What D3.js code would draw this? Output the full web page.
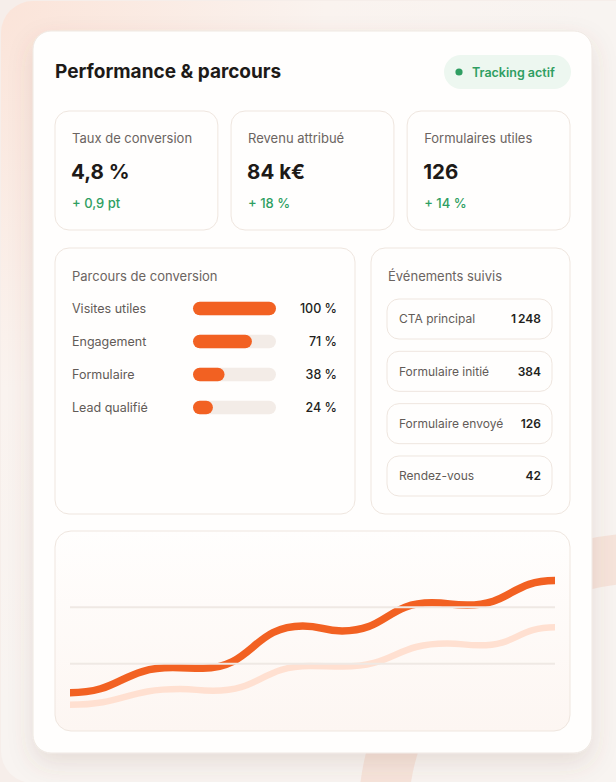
<!DOCTYPE html>
<html>
<head>
<meta charset="utf-8">
<script src="https://cdn.jsdelivr.net/npm/d3@7"></script>
<style>
  html, body { margin: 0; padding: 0; background: #f7f1ed; }
  svg { display: block; font-family: Inter, "Noto Sans", sans-serif; }
</style>
</head>
<body>
<div id="chart"></div>
<script>
const W = 616, H = 782;

// KPI tiles
const kpiLabels = ["Taux de conversion", "Revenu attribué", "Formulaires utiles"];
const kpiValues = ["4,8 %", "84 k€", "126"];
const kpiDeltas = ["+ 0,9 pt", "+ 18 %", "+ 14 %"];

// funnel
const funnelSteps = ["Visites utiles", "Engagement", "Formulaire", "Lead qualifié"];
const funnelPct = [100, 71, 38, 24];

// tracked events
const eventNames = ["CTA principal", "Formulaire initié", "Formulaire envoyé", "Rendez-vous"];
const eventCounts = [1248, 384, 126, 42];

// trend curves: turning points (position 0-100, value 0-60)
const mainPos = [0, 21.2, 27.4, 48.0, 56.1, 74.6, 81.9, 100];
const mainVal = [9.7, 18.6, 18.4, 33.4, 31.6, 41.6, 40.8, 49.5];
const basePos = [0, 22.7, 29.5, 49.5, 56.3, 77.7, 84.5, 100];
const baseVal = [5.4, 11.0, 10.4, 19.2, 19.0, 27.2, 26.5, 32.9];
const gridTicks = [20, 40];

const orange = "#f26122";
const green = "#2f9e62";
const border = "#efe6df";

const svg = d3.select("#chart").append("svg")
  .attr("width", W)
  .attr("height", H);

const defs = svg.append("defs");

const bgGrad = defs.append("radialGradient")
  .attr("id", "bgGrad")
  .attr("cx", "0%").attr("cy", "0%").attr("r", "90%");
bgGrad.append("stop").attr("offset", "0%").attr("stop-color", "#fbe4d9");
bgGrad.append("stop").attr("offset", "55%").attr("stop-color", "#faf3ef");
bgGrad.append("stop").attr("offset", "100%").attr("stop-color", "#f8f4f1");

const chartGrad = defs.append("linearGradient")
  .attr("id", "chartGrad")
  .attr("x1", 0).attr("y1", 0).attr("x2", 0).attr("y2", 1);
chartGrad.append("stop").attr("offset", "0%").attr("stop-color", "#fffefd");
chartGrad.append("stop").attr("offset", "100%").attr("stop-color", "#fdf6f2");

const shadow = defs.append("filter")
  .attr("id", "shadow")
  .attr("x", "-20%").attr("y", "-20%").attr("width", "140%").attr("height", "140%");
shadow.append("feDropShadow")
  .attr("dx", 0).attr("dy", 10).attr("stdDeviation", 12)
  .attr("flood-color", "#7a5040").attr("flood-opacity", 0.14);

// page background
svg.append("rect").attr("width", W).attr("height", H).attr("fill", "#f6eeea");
svg.append("rect")
  .attr("x", 1).attr("y", 1).attr("width", W + 40).attr("height", H + 0)
  .attr("rx", 32)
  .attr("fill", "url(#bgGrad)");

// soft ring behind the card
svg.append("circle")
  .attr("cx", 645).attr("cy", 820)
  .attr("r", 262)
  .attr("fill", "none")
  .attr("stroke", "#f5ddd2")
  .attr("stroke-opacity", 0.7)
  .attr("stroke-width", 50);

// main card
svg.append("rect")
  .attr("x", 33).attr("y", 31).attr("width", 559).attr("height", 722)
  .attr("rx", 18)
  .attr("fill", "#fffefd")
  .attr("stroke", "#efe8e2")
  .attr("filter", "url(#shadow)");

svg.append("text")
  .attr("x", 55).attr("y", 77.5)
  .attr("font-size", 19).attr("font-weight", 700)
  .attr("fill", "#1d1a18")
  .text("Performance & parcours");

// badge
const badge = svg.append("g");
badge.append("rect")
  .attr("x", 444).attr("y", 55).attr("width", 127).attr("height", 34)
  .attr("rx", 17)
  .attr("fill", "#edf7f0");
badge.append("circle").attr("cx", 459).attr("cy", 72).attr("r", 3.6).attr("fill", green);
badge.append("text")
  .attr("x", 472).attr("y", 76.5)
  .attr("font-size", 12.5).attr("font-weight", 600)
  .attr("fill", green)
  .text("Tracking actif");

// KPI tiles
const kpiX = d3.scaleBand().domain(d3.range(kpiLabels.length)).range([55, 570]).paddingInner(0.075);

const kpi = svg.selectAll("g.kpi")
  .data(kpiLabels)
  .enter()
  .append("g")
  .attr("class", "kpi")
  .attr("transform", (d, i) => `translate(${kpiX(i)}, 111)`);

kpi.append("rect")
  .attr("width", kpiX.bandwidth()).attr("height", 119)
  .attr("rx", 14)
  .attr("fill", "#fffefd")
  .attr("stroke", border);

kpi.append("text")
  .attr("x", 17).attr("y", 32)
  .attr("font-size", 13).attr("fill", "#6b6461")
  .text((d) => d);

kpi.append("text")
  .attr("x", 16).attr("y", 68)
  .attr("font-size", 20.5).attr("font-weight", 700).attr("fill", "#1d1a18")
  .text((d, i) => kpiValues[i]);

kpi.append("text")
  .attr("x", 17).attr("y", 97)
  .attr("font-size", 13).attr("font-weight", 500).attr("fill", green)
  .text((d, i) => kpiDeltas[i]);

// funnel card
svg.append("rect")
  .attr("x", 55).attr("y", 248).attr("width", 300).attr("height", 266)
  .attr("rx", 14).attr("fill", "#fffefd").attr("stroke", border);

svg.append("text")
  .attr("x", 72).attr("y", 280.5)
  .attr("font-size", 13).attr("fill", "#6b6461")
  .text("Parcours de conversion");

const rowY = d3.scalePoint().domain(funnelSteps).range([308.5, 407.5]);
const barX = d3.scaleLinear().domain([0, 100]).range([0, 83]);
const barH = 13.5;

const rows = svg.selectAll("g.step")
  .data(funnelSteps)
  .enter()
  .append("g")
  .attr("class", "step")
  .attr("transform", (d) => `translate(0, ${rowY(d)})`);

rows.append("text")
  .attr("x", 72).attr("y", 4.5)
  .attr("font-size", 12.5).attr("fill", "#625b57")
  .text((d) => d);

rows.append("rect")
  .attr("x", 193).attr("y", -barH / 2)
  .attr("width", barX(100)).attr("height", barH)
  .attr("rx", barH / 2)
  .attr("fill", "#f3ece7");

rows.append("rect")
  .attr("x", 193).attr("y", -barH / 2)
  .attr("width", (d, i) => barX(funnelPct[i])).attr("height", barH)
  .attr("rx", barH / 2)
  .attr("fill", orange);

rows.append("text")
  .attr("x", 337).attr("y", 4.5)
  .attr("text-anchor", "end")
  .attr("font-size", 12.5).attr("font-weight", 500).attr("fill", "#231f1c")
  .text((d, i) => funnelPct[i] + " %");

// events card
svg.append("rect")
  .attr("x", 371).attr("y", 248).attr("width", 199).attr("height", 266)
  .attr("rx", 14).attr("fill", "#fffefd").attr("stroke", border);

svg.append("text")
  .attr("x", 388).attr("y", 280.5)
  .attr("font-size", 13).attr("fill", "#6b6461")
  .text("Événements suivis");

const evY = d3.scaleBand().domain(eventNames).range([299, 496]).paddingInner(0.235);
const fmtCount = (n) => d3.format(",")(n).replace(",", "\u2009");

const ev = svg.selectAll("g.event")
  .data(eventNames)
  .enter()
  .append("g")
  .attr("class", "event")
  .attr("transform", (d) => `translate(387, ${evY(d)})`);

ev.append("rect")
  .attr("width", 165).attr("height", evY.bandwidth())
  .attr("rx", 12)
  .attr("fill", "#fffefd").attr("stroke", border);

ev.append("text")
  .attr("x", 12).attr("y", evY.bandwidth() / 2 + 4.3)
  .attr("font-size", 12).attr("fill", "#625b57")
  .text((d) => d);

ev.append("text")
  .attr("x", 154).attr("y", evY.bandwidth() / 2 + 4.3)
  .attr("text-anchor", "end")
  .attr("font-size", 12).attr("font-weight", 600).attr("fill", "#231f1c")
  .text((d, i) => fmtCount(eventCounts[i]));

// trend card
svg.append("rect")
  .attr("x", 55).attr("y", 531).attr("width", 515).attr("height", 200)
  .attr("rx", 16).attr("fill", "url(#chartGrad)").attr("stroke", border);

const lx = d3.scaleLinear().domain([0, 100]).range([70, 555]);
const ly = d3.scaleLinear().domain([0, 60]).range([720, 551]);

const line = d3.line()
  .x((d) => lx(d[0]))
  .y((d) => ly(d[1]))
  .curve(d3.curveBumpX);

svg.append("path")
  .datum(d3.zip(basePos, baseVal))
  .attr("fill", "none")
  .attr("stroke", "#ffe0d1")
  .attr("stroke-width", 6.5)
  .attr("d", line);

svg.append("path")
  .datum(d3.zip(mainPos, mainVal))
  .attr("fill", "none")
  .attr("stroke", orange)
  .attr("stroke-width", 7.5)
  .attr("d", line);

// grid lines sit above the curves
svg.selectAll("line.grid")
  .data(gridTicks)
  .enter()
  .append("line")
  .attr("class", "grid")
  .attr("x1", 70).attr("x2", 555)
  .attr("y1", (d) => ly(d)).attr("y2", (d) => ly(d))
  .attr("stroke", "#efe9e4")
  .attr("stroke-width", 2);
</script>
</body>
</html>
